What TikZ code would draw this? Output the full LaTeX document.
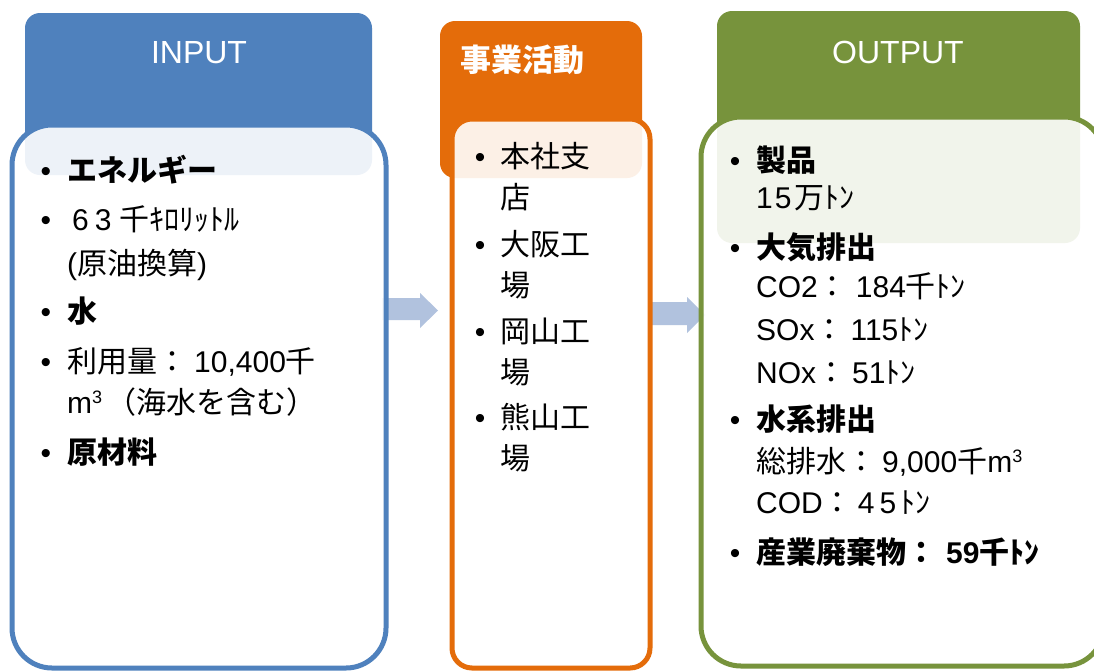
\documentclass[tikz,border=0pt]{standalone}
\usepackage{fontspec}
\setmainfont{Noto Sans CJK JP}
\newfontfamily\lat{Liberation Sans}
\definecolor{blueC}{HTML}{4F81BD}
\definecolor{orangeC}{HTML}{E46C0A}
\definecolor{greenC}{HTML}{77933C}
\definecolor{arrowC}{HTML}{B1C2DE}
\newcommand{\cubic}{{\lat m\raisebox{10pt}{\fontsize{18}{20}\selectfont 3}}}
\newcommand{\gap}[1]{\hspace{#1pt}}
\begin{document}
\begin{tikzpicture}[x=1pt,y=-1pt,
  hdrbox/.style={rounded corners=15pt, inner sep=0pt, draw=none},
  bodybox/.style={line width=5pt, fill=white, fill opacity=0.9, inner sep=0pt},
  txt/.style={anchor=base west, inner sep=0pt, font=\fontsize{30}{36}\selectfont},
  btxt/.style={txt, font=\fontsize{30}{36}\selectfont\bfseries},
  bul/.style={anchor=base, inner sep=0pt, font=\fontsize{30}{36}\selectfont\lat},
  hdrtxt/.style={anchor=base, inner sep=0pt, text=white, font=\fontsize{32}{38}\selectfont\lat},
  blockarrow/.style={fill=arrowC}
]
\useasboundingbox (0,0) rectangle (1094,670);
\fill[white] (0,0) rectangle (1094,670);

% headers
\node[hdrbox, fill=blueC, minimum width=347pt, minimum height=162pt] (inh) at (198.5,94) {};
\node[hdrbox, fill=orangeC, minimum width=202pt, minimum height=157pt] (midh) at (541,99.5) {};
\node[hdrbox, fill=greenC, minimum width=363pt, minimum height=232pt] (outh) at (898.5,127) {};

\node[hdrtxt] (hin) at (199,63) {INPUT};
\node[anchor=base west, inner sep=0pt, text=white, font=\fontsize{31}{37}\selectfont\bfseries] (hmid) at (460,71) {事業活動};
\node[hdrtxt] (hout) at (898,63) {OUTPUT};

% block arrows
\fill[blockarrow] (382,298) -- (420,298) -- (420,293) -- (438,310.5) -- (420,328) -- (420,320) -- (382,320) -- cycle;
\fill[blockarrow] (652,302) -- (687,302) -- (687,297) -- (705,315) -- (687,333) -- (687,325) -- (652,325) -- cycle;

% bodies
\node[bodybox, draw=blueC, rounded corners=40pt, minimum width=374pt, minimum height=543pt] (inb) at (199,396.5) {};
\node[bodybox, draw=orangeC, rounded corners=20pt, minimum width=198pt, minimum height=549pt] (midb) at (551,393.5) {};
\node[bodybox, draw=greenC, rounded corners=40pt, minimum width=403pt, minimum height=549pt] (outb) at (902.5,391.5) {};

% INPUT texts
\node[bul] (ib1) at (46,181) {•};
\node[btxt] (i1) at (67,181) {エネルギー};
\node[bul] (ib2) at (46,230) {•};
\node[txt] (i2) at (67,230) {\gap{5}{\lat 6\gap{6}3}\gap{8}千ｷﾛﾘｯﾄﾙ};
\node[txt] (i3) at (67,274) {{\lat(}原油換算{\lat)}};
\node[bul] (ib3) at (46,322) {•};
\node[btxt] (i4) at (67,322) {水};
\node[bul] (ib4) at (46,372) {•};
\node[txt] (i5) at (67,372) {利用量：\gap{7}{\lat 10,400}千};
\node[txt] (i6) at (67,413) {\cubic\gap{4}（海水を含む）};
\node[bul] (ib5) at (46,463) {•};
\node[btxt] (i7) at (67,463) {原材料};

% middle texts
\node[bul] (mb1) at (480,167) {•};
\node[txt] (m1) at (500,167) {本社支};
\node[txt] (m2) at (500,208) {店};
\node[bul] (mb2) at (480,255) {•};
\node[txt] (m3) at (500,255) {大阪工};
\node[txt] (m4) at (500,296) {場};
\node[bul] (mb3) at (480,342) {•};
\node[txt] (m5) at (500,342) {岡山工};
\node[txt] (m6) at (500,383) {場};
\node[bul] (mb4) at (480,428) {•};
\node[txt] (m7) at (500,428) {熊山工};
\node[txt] (m8) at (500,469) {場};

% OUTPUT texts
\node[bul] (ob1) at (735,171) {•};
\node[btxt] (o1) at (756,171) {製品};
\node[txt] (o2) at (756,208) {{\lat 1\gap{2}5}\gap{3}万ﾄﾝ};
\node[bul] (ob2) at (735,258) {•};
\node[btxt] (o3) at (756,258) {大気排出};
\node[txt] (o4) at (756,297) {{\lat CO2}：\gap{8}{\lat 184}千ﾄﾝ};
\node[txt] (o5) at (756,340) {{\lat SOx}：\gap{6}{\lat 115}ﾄﾝ};
\node[txt] (o6) at (756,383) {{\lat NOx}：\gap{6}{\lat 51}ﾄﾝ};
\node[bul] (ob3) at (735,430) {•};
\node[btxt] (o7) at (756,430) {水系排出};
\node[txt] (o8) at (756,472) {総排水：\gap{6}{\lat 9,000}千\cubic};
\node[txt] (o9) at (756,513) {{\lat COD}：\gap{5}{\lat 4\gap{5}5}\gap{4}ﾄﾝ};
\node[bul] (ob4) at (735,563) {•};
\node[btxt] (o10) at (756,563) {産業廃棄物：\gap{10}{\lat 59}千ﾄﾝ};
\end{tikzpicture}
\end{document}
